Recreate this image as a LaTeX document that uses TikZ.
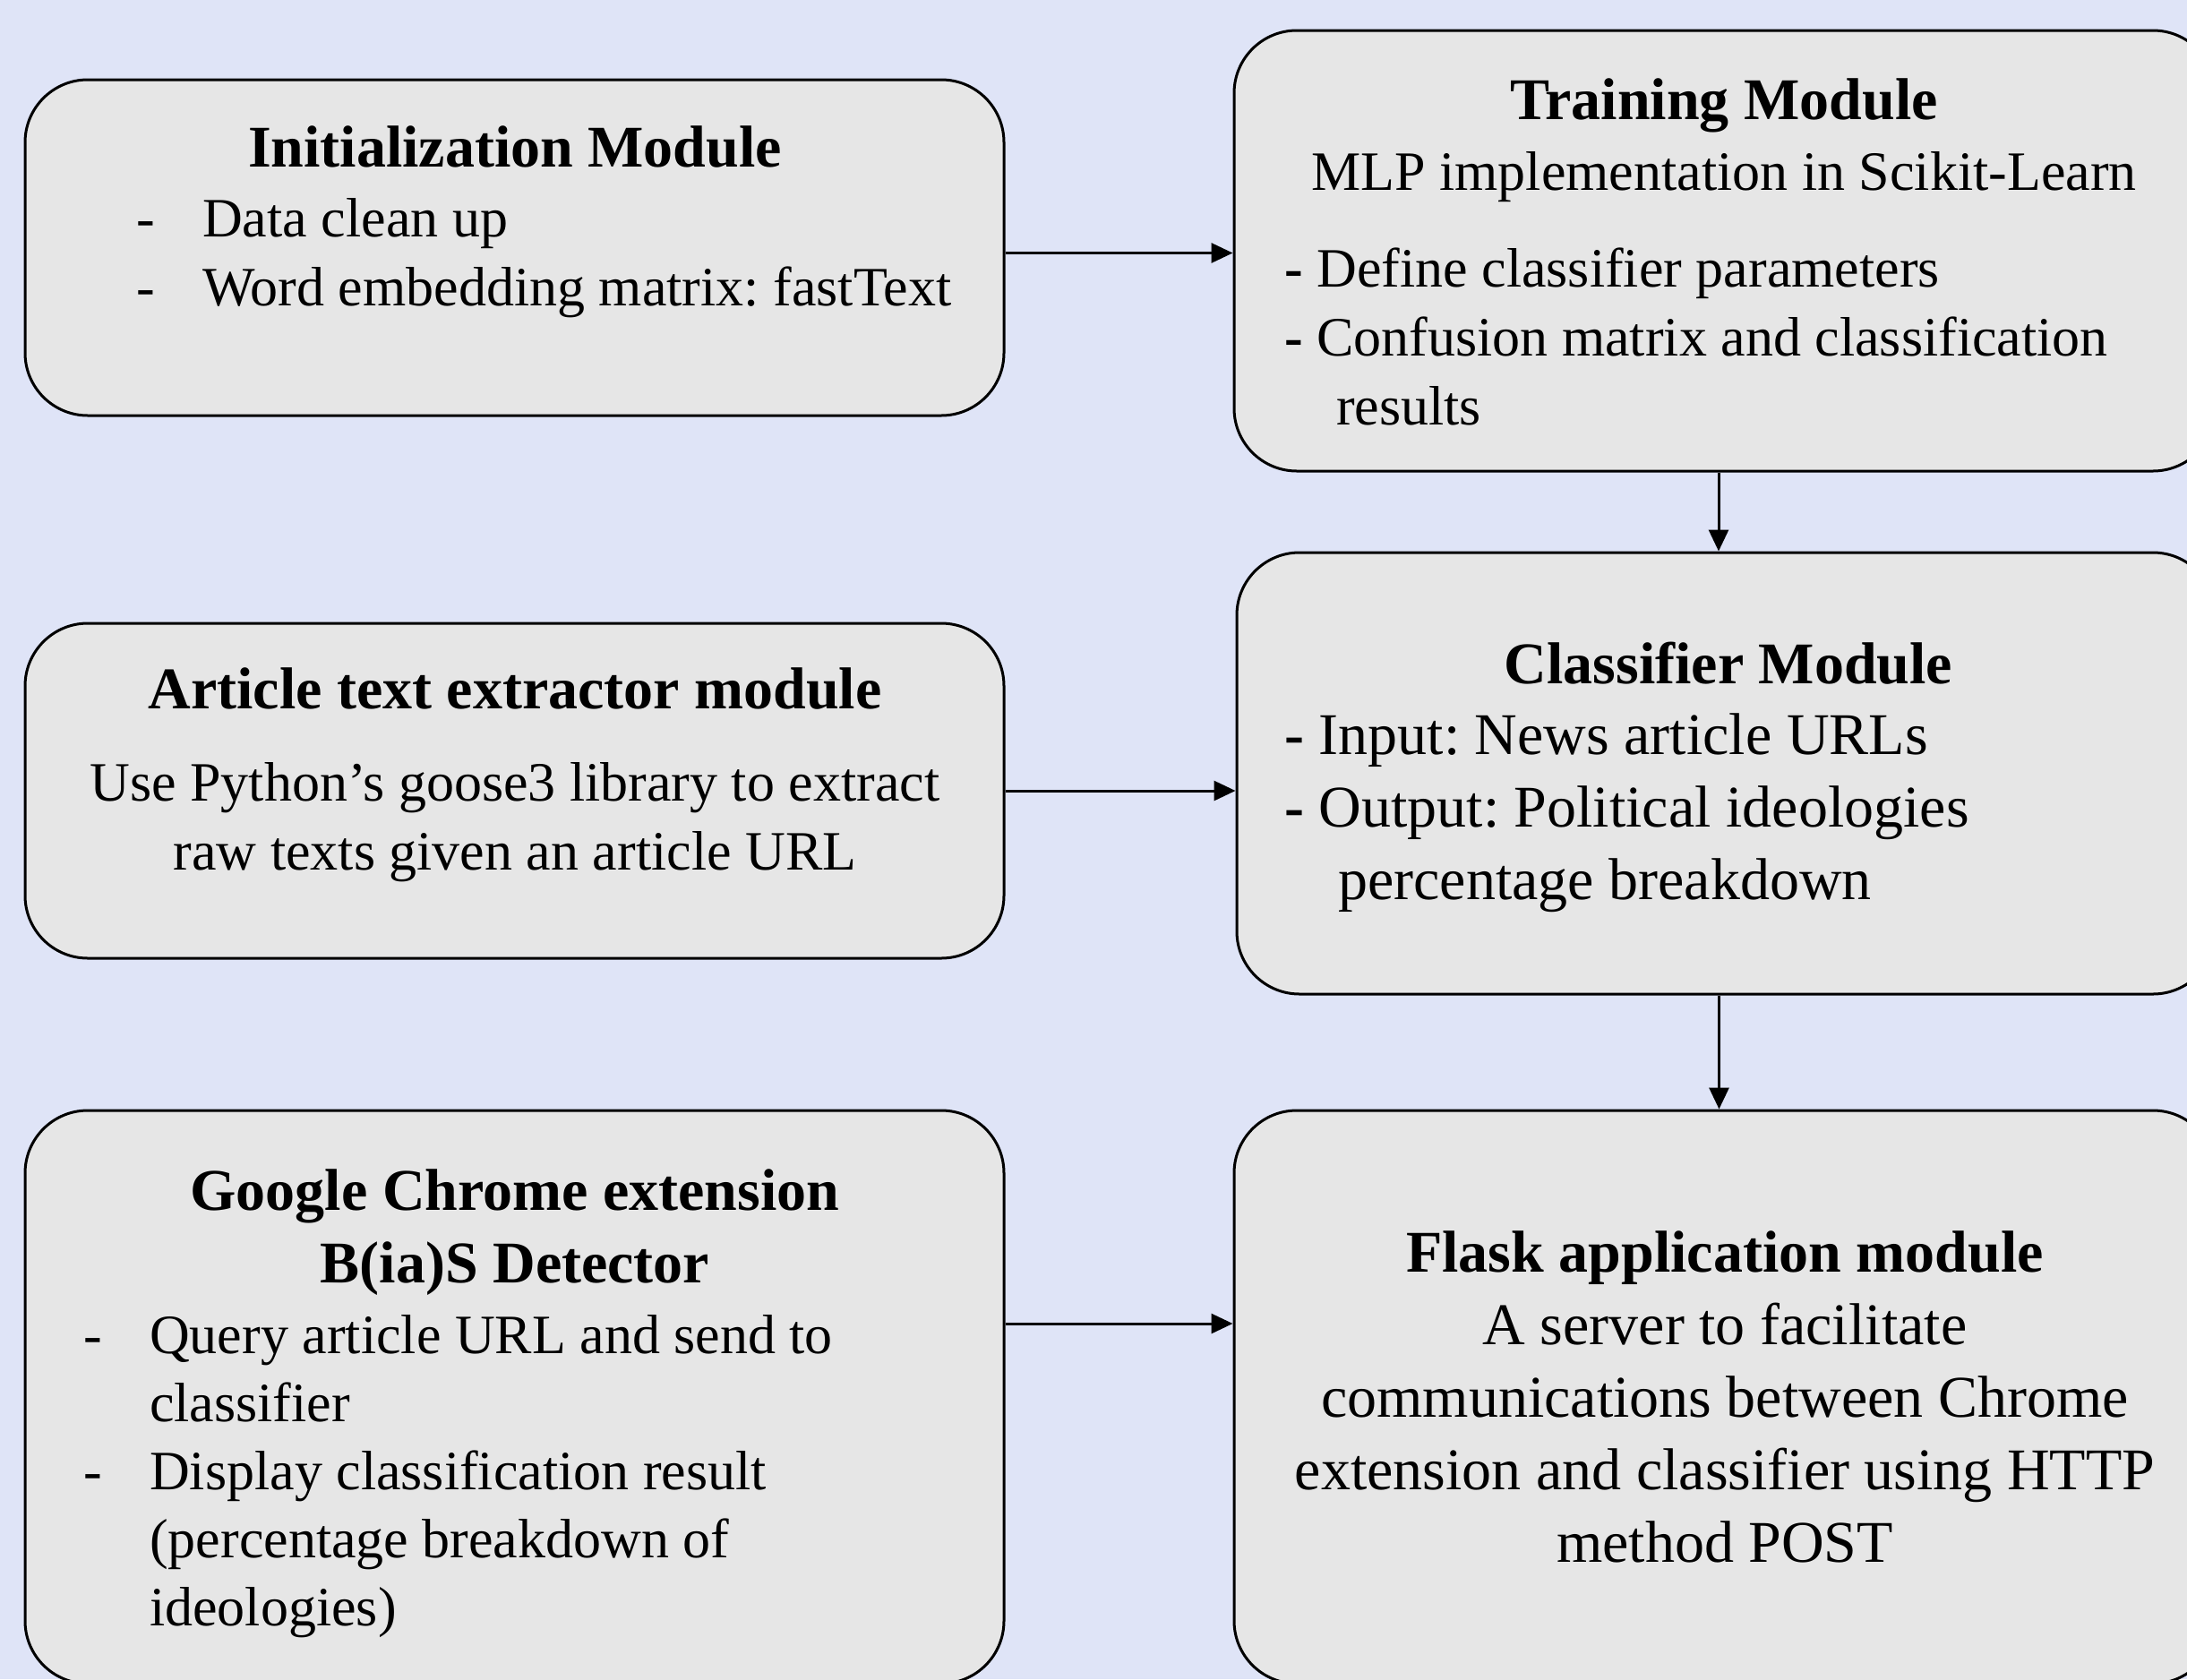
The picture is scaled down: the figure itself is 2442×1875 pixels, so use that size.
\documentclass[tikz,border=0pt]{standalone}
\usepackage{fontspec}
\setmainfont{Liberation Serif}
\usetikzlibrary{arrows.meta}
\definecolor{bgblue}{RGB}{223,228,247}
\definecolor{boxgray}{RGB}{230,230,230}
\frenchspacing

\begin{document}
\begin{tikzpicture}[x=1pt,y=-1pt,
    module/.style={draw=black,fill=boxgray,line width=3pt,rounded corners=70pt,inner sep=0pt},
    arr/.style={line width=3pt,-{Triangle[length=24pt,width=22pt]}},
    ttl/.style={inner sep=0pt,anchor=base,font=\fontsize{66}{81}\selectfont\bfseries},
    txt/.style={inner sep=0pt,font=\fontsize{62}{77}\selectfont},
    bigtxt/.style={inner sep=0pt,font=\fontsize{66}{81}\selectfont}]
      \useasboundingbox (0,0) rectangle (2442,1875);
      \fill[bgblue] (0,0) rectangle (2442,1875);
      \clip (0,0) rectangle (2442,1875);

      % boxes
      \node[module,minimum width=1093pt,minimum height=375pt] (init) at (574.5,276.5) {};
      \node[module,minimum width=1096pt,minimum height=492pt] (train) at (1926,280) {};
      \node[module,minimum width=1093pt,minimum height=374pt] (article) at (574.5,883) {};
      \node[module,minimum width=1093pt,minimum height=493pt] (classif) at (1927.5,863.5) {};
      \node[module,minimum width=1093pt,minimum height=640pt] (chrome) at (574.5,1560) {};
      \node[module,minimum width=1096pt,minimum height=640pt] (flask) at (1926,1560) {};

      % texts
      \node[ttl] (initTitle) at (575,186) {Initialization Module};
      \node[txt,anchor=base west] (initList) at (152,264) {\begin{tabular}[t]{@{}p{74pt}@{}l@{}}-&Data clean up\\-&Word embedding matrix: fastText\end{tabular}};

      \node[ttl] (trainTitle) at (1925,133) {Training Module};
      \node[txt,anchor=base] (trainSub) at (1925,212) {MLP implementation in Scikit-Learn};
      \node[txt,anchor=base west] (trainList) at (1434,320) {\begin{tabular}[t]{@{}l@{}}\textbf{-} Define classifier parameters\\\textbf{-} Confusion matrix and classification\\\hspace*{58pt}results\end{tabular}};

      \node[ttl] (artTitle) at (575,791) {Article text extractor module};
      \node[txt,anchor=base] (artText) at (575,894) {\begin{tabular}[t]{@{}c@{}}Use Python’s goose3 library to extract\\raw texts given an article URL\end{tabular}};

      \node[ttl] (clsTitle) at (1930,763) {Classifier Module};
      \node[bigtxt,anchor=base west] (clsList) at (1434,842) {\begin{tabular}[t]{@{}l@{}}\textbf{-} Input: News article URLs\\\textbf{-} Output: Political ideologies\\\hspace*{60pt}percentage breakdown\end{tabular}};

      \node[ttl] (chromeTitle) at (575,1351) {\begin{tabular}[t]{@{}c@{}}Google Chrome extension\\B(ia)S Detector\end{tabular}};
      \node[txt,anchor=base west,font=\fontsize{62}{76}\selectfont] (chromeList) at (93,1511) {\begin{tabular}[t]{@{}p{74pt}@{}l@{}}-&Query article URL and send to\\&classifier\\-&Display classification result\\&(percentage breakdown of\\&ideologies)\end{tabular}};

      \node[ttl] (flaskTitle) at (1926,1420) {Flask application module};
      \node[bigtxt,anchor=base] (flaskText) at (1926,1501) {\begin{tabular}[t]{@{}c@{}}A server to facilitate\\communications between Chrome\\extension and classifier using HTTP\\method POST\end{tabular}};

      % connectors
      \draw[arr] ([yshift=-6pt]init.east) -- ([yshift=-6pt]init.east -| train.west);
      \draw[arr] (article.east) -- (article.east -| classif.west);
      \draw[arr] ([yshift=82pt]chrome.east) -- ([yshift=82pt]chrome.east -| flask.west);
      \draw[arr] ([xshift=-7pt]train.south) -- ([xshift=-7pt]train.south |- classif.north);
      \draw[arr] ([xshift=-8pt]classif.south) -- ([xshift=-8pt]classif.south |- flask.north);
    \end{tikzpicture}
\end{document}
